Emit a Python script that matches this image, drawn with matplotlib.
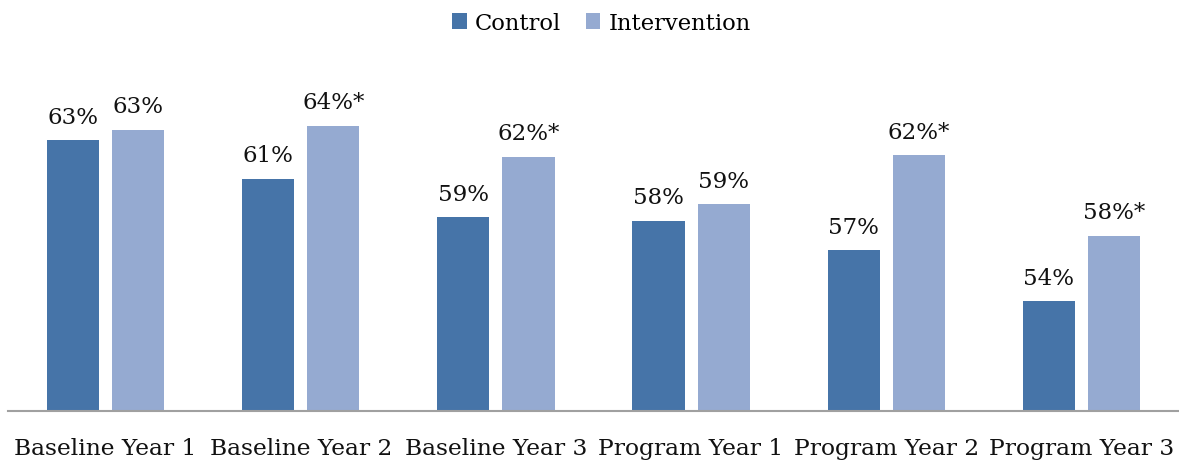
import numpy as np
import matplotlib.pyplot as plt

# Share of participants per year, control vs intervention group
categories = ["Baseline Year 1", "Baseline Year 2", "Baseline Year 3",
              "Program Year 1", "Program Year 2", "Program Year 3"]
control = [62.8, 60.7, 58.6, 58.4, 56.8, 54.0]
intervention = [63.4, 63.6, 61.9, 59.3, 62.0, 57.6]
# significant difference between groups
significant = [False, True, True, False, True, True]

ctrl_color = "#4674A8"
int_color = "#95AAD1"

plt.rcParams['font.family'] = ['DejaVu Serif']

fig = plt.figure(figsize=(11.79, 4.64), dpi=100)
ax = fig.add_axes([8 / 1179, 1 - 412 / 464, 1 - 8 / 1179, (412 - 83) / 464])

x = np.arange(len(categories))
width = 0.267
offset = 0.167
b1 = ax.bar(x - offset, control, width, bottom=0, color=ctrl_color, label="Control")
b2 = ax.bar(x + offset, intervention, width, bottom=0, color=int_color, label="Intervention")

for rect, v in zip(b1, control):
    ax.annotate(f"{round(v):.0f}%", (rect.get_x() + rect.get_width() / 2, v),
                xytext=(0, 9), textcoords="offset points", ha="center", va="bottom",
                fontsize=16.5, color="#111111")
for rect, v, sig in zip(b2, intervention, significant):
    text = f"{round(v):.0f}%" + ("*" if sig else "")
    ax.annotate(text, (rect.get_x() + rect.get_width() / 2, v), xytext=(0, 9),
                textcoords="offset points", ha="center", va="bottom",
                fontsize=16.5, color="#111111")

ax.set_ylim(48, 66)
ax.set_xlim(-0.5, len(categories) - 0.5)
ax.set_xticks(x)
ax.set_xticklabels(categories, fontsize=16.8, color="#111111")
ax.tick_params(axis="x", length=0, pad=19)
ax.set_yticks([])
for side in ["top", "right", "left"]:
    ax.spines[side].set_visible(False)
ax.spines["bottom"].set_color("#A0A0A0")
ax.spines["bottom"].set_linewidth(1.5)

fig.legend(handles=[b1, b2], loc="center", bbox_to_anchor=(0.51, 1 - 24 / 464), ncol=2,
           frameon=False, fontsize=16.3, handlelength=0.65, handleheight=0.65,
           handletextpad=0.35, columnspacing=1.1)

fig.savefig("out.png", dpi=100)
